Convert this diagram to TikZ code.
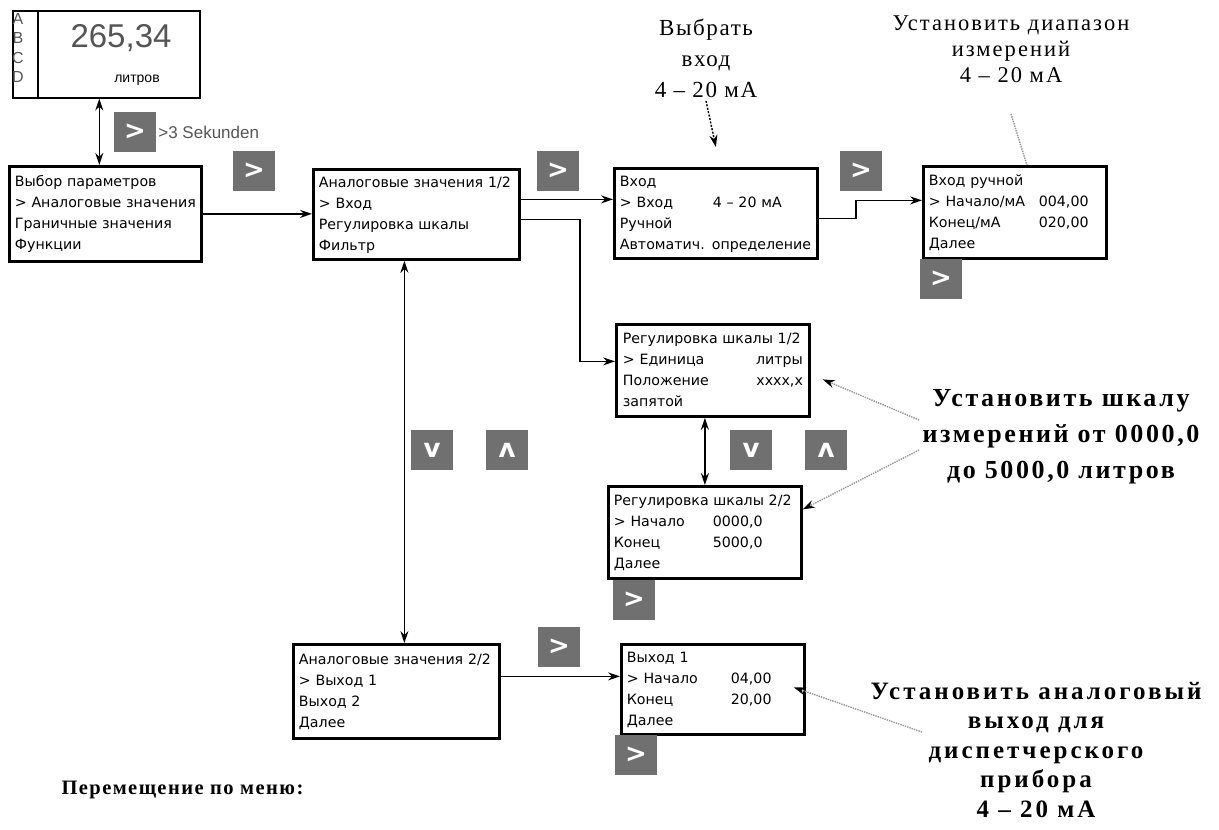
\documentclass[tikz,border=0pt]{standalone}
\usepackage{fontspec}
\setmainfont{Liberation Serif}
\newfontfamily\menufont{DejaVu Sans}
\newfontfamily\dispfont{Liberation Sans}
\newfontfamily\notefont[LetterSpace=7]{Liberation Serif}
\newfontfamily\widenotefont[LetterSpace=9]{Liberation Serif}
\newfontfamily\noteboldfont[LetterSpace=10]{Liberation Serif}
\newfontfamily\wideboldfont[LetterSpace=12]{Liberation Serif}
\usetikzlibrary{arrows.meta, positioning, calc}
\definecolor{keygray}{RGB}{112,112,112}
\definecolor{lcdgray}{RGB}{85,85,85}
\definecolor{dotgray}{RGB}{150,150,150}
\newcommand{\kv}[3]{\makebox[#1][l]{#2}#3}
\newcommand{\screen}[1]{\begin{tabular}{@{}l@{}}#1\end{tabular}}

\begin{document}
\begin{tikzpicture}[x=1pt, y=-1pt,
  menu/.style={draw, line width=2.8pt, anchor=north west, align=left,
               inner xsep=4pt, inner ysep=3pt, minimum height=92pt,
               text width=#1, font=\menufont\fontsize{14.2}{21}\selectfont},
  key/.style={fill=keygray, text=white, minimum width=42pt, minimum height=40pt,
              inner sep=0pt, font=\menufont\bfseries\fontsize{26}{26}\selectfont},
  arr/.style={-{Stealth[length=12pt, width=8pt]}, line width=1.6pt},
  dbl/.style={{Stealth[length=12pt, width=8pt]}-{Stealth[length=12pt, width=8pt]}, line width=1.6pt},
  note/.style={dotgray, line width=1.4pt, densely dotted,
               -{Stealth[length=12pt, width=8pt, black]}},
  noteline/.style={dotgray, line width=1.4pt, densely dotted}
]
\useasboundingbox (0,0) rectangle (1219,830);

% display
\node[draw, line width=1.6pt, anchor=north west, minimum width=187pt,
      minimum height=87pt] (disp) at (12,10) {};
\draw[line width=1.6pt] ([xshift=26pt]disp.north west) -- ([xshift=26pt]disp.south west);
\foreach \l [count=\i] in {A,B,C,D}
  \node[text=lcdgray, font=\dispfont\fontsize{16}{16}\selectfont, inner sep=0pt]
    (lcd\l) at (18,-1+19.5*\i) {\l};
\node[text=lcdgray, font=\dispfont\fontsize{33}{33}\selectfont] (value) at (121,38) {265,34};
\node[font=\dispfont\fontsize{14}{14}\selectfont] (unit) at (137,80) {литров};

% menu screens
\node[menu=181pt, minimum width=192pt, minimum height=95pt] (sel) at (8,165)
  {\screen{Выбор параметров\\> Аналоговые значения\\Граничные значения\\Функции}};
\node[menu=195pt, minimum width=206pt, minimum height=90pt] (an1) at (312,168)
  {\screen{Аналоговые значения 1/2\\> Вход\\Регулировка шкалы\\Фильтр}};
\node[menu=192pt, minimum width=203pt, minimum height=90pt] (inp) at (613,167)
  {\screen{Вход\\\kv{93pt}{> Вход}{4 – 20 мА}\\Ручной\\Автоматич. определение}};
\node[menu=172pt, minimum width=183pt] (man) at (922,165)
  {\screen{Вход ручной\\\kv{110pt}{> Начало/мА}{004,00}\\\kv{110pt}{Конец/мА}{020,00}\\Далее}};
\node[menu=180pt, minimum width=193pt, inner xsep=6pt] (scl1) at (615,323)
  {\screen{Регулировка шкалы 1/2\\\makebox[180pt]{> Единица\hfill литры}\\
           \makebox[180pt]{Положение\hfill xxxx,x}\\запятой}};
\node[menu=182pt, minimum width=193pt] (scl2) at (607,485)
  {\screen{Регулировка шкалы 2/2\\\kv{99pt}{> Начало}{0000,0}\\\kv{99pt}{Конец}{5000,0}\\Далее}};
\node[menu=195pt, minimum width=206pt, minimum height=94pt] (an2) at (292,643)
  {\screen{Аналоговые значения 2/2\\> Выход 1\\Выход 2\\Далее}};
\node[menu=172pt, minimum width=183pt, minimum height=88pt] (out) at (620,643)
  {\screen{Выход 1\\\kv{104pt}{> Начало}{04,00}\\\kv{104pt}{Конец}{20,00}\\Далее}};

% keys
\foreach \n/\x/\y/\s in {1/135/132/>, 2/254/171/>, 3/558/171/>, 4/861/171/>,
    5/941/279/>, 6/432/450/v, 7/507/450/ʌ, 8/751/450/v, 9/826/450/ʌ,
    10/634/600/>, 11/559/647/>, 12/636/755/>}
  \node[key] (k\n) at (\x,\y) {\s};
\node[right=2pt of k1, text=lcdgray, font=\dispfont\fontsize{17}{17}\selectfont,
      inner sep=0pt] (hold) {>3 Sekunden};

% notes
\node[align=center, font=\notefont\fontsize{23}{31}\selectfont] (n1) at (706,58)
  {Выбрать\\вход\\4 – 20 мА};
\node[align=center, font=\widenotefont\fontsize{22.5}{26}\selectfont] (n2) at (1011,49)
  {Установить диапазон\\измерений\\4 – 20 мА};
\node[align=center, font=\noteboldfont\bfseries\fontsize{26}{36}\selectfont] (n3) at (1061,437)
  {Установить шкалу\\измерений от 0000,0\\до 5000,0 литров};
\node[align=center, font=\wideboldfont\bfseries\fontsize{25}{29.5}\selectfont] (n4) at (1036,750)
  {Установить аналоговый\\выход для\\диспетчерского\\прибора\\4 – 20 мА};
\node[anchor=west, font=\notefont\bfseries\fontsize{20.5}{21}\selectfont] (nav) at (58,790)
  {Перемещение по меню:};
\coordinate (n4tail) at (922,732);

% connectors
\draw[dbl] ([xshift=-7pt]disp.south) -- ([xshift=-7pt]disp.south |- sel.north);
\draw[arr] (sel.east) -- (sel.east -| an1.west);
\draw[arr] ([yshift=15pt]an1.east) -- ([yshift=15pt]an1.east -| inp.west);
\draw[arr] ([yshift=-5pt]an1.east) -- ++(59,0) |- ([yshift=9pt]scl1.west);
\draw[arr] ([yshift=-5pt]inp.east) -- ++(37,0) |- ([yshift=12pt]man.west);
\draw[dbl] (scl1.south -| scl2.north) -- (scl2.north);
\draw[dbl] ([xshift=8pt]an2.north |- an1.south) -- ([xshift=8pt]an2.north);
\draw[arr] ([yshift=15pt]an2.east) -- ([yshift=15pt]an2.east -| out.west);

\draw[note, black, dash pattern=on 2pt off 1.5pt] (n1.south) -- ([yshift=20pt]inp.north);
\draw[noteline] ([yshift=-28pt]n2.south) -- ([xshift=12pt]man.north);
\draw[note] ([yshift=17pt]n3.west) -- ([shift={(12pt,-9pt)}]scl1.east);
\draw[note] ([yshift=-13pt]n3.west) -- ([yshift=23pt]scl2.east);
\draw[note] (n4tail) -- ([shift={(-12pt,2pt)}]out.east);
\end{tikzpicture}
\end{document}
